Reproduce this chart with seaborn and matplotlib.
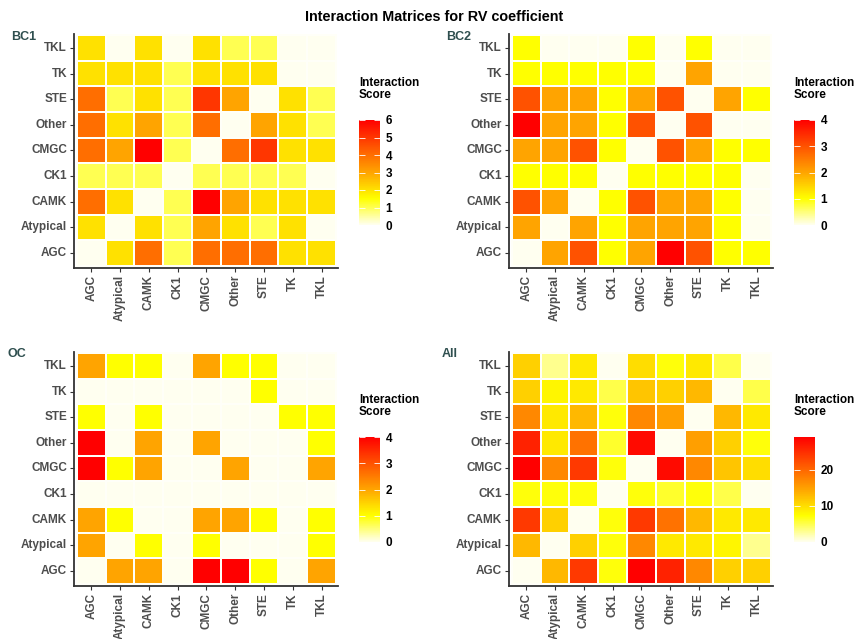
import numpy as np
import pandas as pd
import matplotlib
matplotlib.use("Agg")
import matplotlib.pyplot as plt
import seaborn as sns
from matplotlib.colors import LinearSegmentedColormap

kinases = ["AGC", "Atypical", "CAMK", "CK1", "CMGC", "Other", "STE", "TK", "TKL"]

# rows and columns both in kinase order (AGC ... TKL)
bc1 = [
    [0, 2, 4, 1, 4, 4, 4, 2, 2],
    [2, 0, 2, 1, 3, 2, 1, 2, 0],
    [4, 2, 0, 1, 6, 3, 2, 2, 2],
    [1, 1, 1, 0, 1, 1, 1, 1, 0],
    [4, 3, 6, 1, 0, 4, 5, 2, 2],
    [4, 2, 3, 1, 4, 0, 3, 2, 1],
    [4, 1, 2, 1, 5, 3, 0, 2, 1],
    [2, 2, 2, 1, 2, 2, 2, 0, 0],
    [2, 0, 2, 0, 2, 1, 1, 0, 0],
]
bc2 = [
    [0, 2, 3, 1, 2, 4, 3, 1, 1],
    [2, 0, 2, 1, 2, 2, 2, 1, 0],
    [3, 2, 0, 1, 3, 2, 2, 1, 0],
    [1, 1, 1, 0, 1, 1, 1, 1, 0],
    [2, 2, 3, 1, 0, 3, 2, 1, 1],
    [4, 2, 2, 1, 3, 0, 3, 0, 0],
    [3, 2, 2, 1, 2, 3, 0, 2, 1],
    [1, 1, 1, 1, 1, 0, 2, 0, 0],
    [1, 0, 0, 0, 1, 0, 1, 0, 0],
]
oc = [
    [0, 2, 2, 0, 4, 4, 1, 0, 2],
    [2, 0, 1, 0, 1, 0, 0, 0, 1],
    [2, 1, 0, 0, 2, 2, 1, 0, 1],
    [0, 0, 0, 0, 0, 0, 0, 0, 0],
    [4, 1, 2, 0, 0, 2, 0, 0, 2],
    [4, 0, 2, 0, 2, 0, 0, 0, 1],
    [1, 0, 1, 0, 0, 0, 0, 1, 1],
    [0, 0, 0, 0, 0, 0, 1, 0, 0],
    [2, 1, 1, 0, 2, 1, 1, 0, 0],
]
all_groups = [
    [0, 13, 24, 7, 29, 26, 17, 11, 11],
    [13, 0, 11, 7, 17, 9, 9, 8, 3],
    [24, 11, 0, 7, 24, 19, 13, 9, 9],
    [7, 7, 7, 0, 7, 6, 7, 5, 0],
    [29, 17, 24, 7, 0, 28, 17, 12, 10],
    [26, 9, 19, 6, 28, 0, 15, 11, 7],
    [17, 9, 13, 7, 17, 15, 0, 13, 9],
    [11, 8, 9, 5, 12, 11, 13, 0, 5],
    [11, 3, 9, 0, 10, 7, 9, 5, 0],
]

panel_names = ["BC1", "BC2", "OC", "All"]
panel_data = [bc1, bc2, oc, all_groups]
cbar_ticks = [[0, 1, 2, 3, 4, 5, 6], [0, 1, 2, 3, 4], [0, 1, 2, 3, 4], [0, 10, 20]]

W, H = 859, 639
plt.rcParams["font.family"] = ["Liberation Sans", "DejaVu Sans"]
cmap = LinearSegmentedColormap.from_list(
    "score", [(0, "#FFFFF0"), (0.25, "#FFFF00"), (0.5, "#FFA500"), (1, "#FF0000")])

fig = plt.figure(figsize=(W / 100, H / 100), dpi=100)

def px_axes(left, top, right, bottom):
    return fig.add_axes([left / W, 1 - bottom / H, (right - left) / W, (bottom - top) / H])

# pixel boxes: heatmap axes and colorbar, per panel
ax_boxes = [(74, 34, 338, 268), (509, 34, 773, 268), (74, 352, 338, 586), (509, 352, 773, 586)]
cb_boxes = [(359, 120, 380, 225), (794, 120, 815, 225), (359, 437, 380, 542), (794, 437, 815, 542)]
label_pos = [(11, 37), (446, 37), (8, 354), (442, 354)]

for i in range(4):
    df = pd.DataFrame(panel_data[i], index=kinases, columns=kinases).iloc[::-1]
    ax = px_axes(*ax_boxes[i])
    cax = px_axes(*cb_boxes[i])
    sns.heatmap(df, ax=ax, cbar_ax=cax, cmap=cmap, vmin=0, vmax=df.values.max(),
                linewidths=0.2, linecolor="#FFFFF8",
                cbar_kws={"ticks": cbar_ticks[i]})
    ax.set_xlim(-0.1, 9.07)
    ax.set_ylim(9.08, -0.04)
    ax.set_xlabel("")
    ax.set_ylabel("")
    for s in ["left", "bottom"]:
        ax.spines[s].set_visible(True)
        ax.spines[s].set_color("#333333")
        ax.spines[s].set_linewidth(1.3)
    ax.tick_params(axis="both", length=3, width=0.8, color="#333333", labelsize=8.5,
                   labelcolor="#4D4D4D", pad=2)
    ax.set_xticklabels(df.columns, rotation=90, fontweight="bold", va="top", ha="center")
    ax.set_yticklabels(df.index, rotation=0, fontweight="bold")

    cax.tick_params(direction="in", color="white", length=4, width=0.6,
                    left=True, right=True, labelleft=False, labelright=True,
                    labelsize=8.5, pad=4)
    for t in cax.get_yticklabels():
        t.set_fontweight("bold")
    cbar = ax.collections[0].colorbar
    if cbar is not None:
        cbar.outline.set_visible(False)

    cbl, cbt = cb_boxes[i][0], cb_boxes[i][1]
    fig.text(cbl / W, 1 - (cbt - 43) / H, "Interaction\nScore", ha="left", va="top",
             fontsize=8.5, fontweight="bold", color="black", linespacing=1.05)
    fig.text(label_pos[i][0] / W, 1 - label_pos[i][1] / H, panel_names[i], ha="left",
             va="center", fontsize=9, fontweight="bold", color="#2F4F4F")

fig.text(434 / W, 1 - 17 / H, "Interaction Matrices for RV coefficient", ha="center",
         va="center", fontsize=10.4, fontweight="bold")

fig.savefig("out.png", dpi=100)
